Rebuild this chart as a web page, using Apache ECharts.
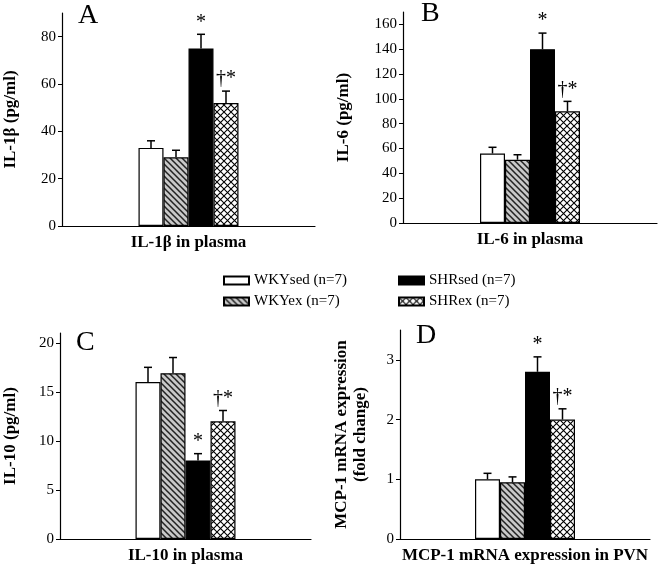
<!DOCTYPE html>
<html>
<head>
<meta charset="utf-8">
<script src="https://cdn.jsdelivr.net/npm/echarts@6/dist/echarts.min.js"></script>
<style>
  html, body { margin: 0; padding: 0; background: #fff; }
  #main { width: 664px; height: 572px; }
</style>
</head>
<body>
<div id="main"></div>
<script>
// groups (legend)
var groups = ['WKYsed (n=7)', 'WKYex (n=7)', 'SHRsed (n=7)', 'SHRex (n=7)'];

// panel A: IL-1β
var catA = ['IL-1β in plasma'];
var meanA = [33, 29, 75, 52];
var errA = [3, 3, 6, 5];
var marksA = ['', '', '*', '†*'];
var ticksA = [0, 20, 40, 60, 80];

// panel B: IL-6
var catB = ['IL-6 in plasma'];
var meanB = [56, 51, 140, 90];
var errB = [5, 4, 13, 8];
var marksB = ['', '', '*', '†*'];
var ticksB = [0, 20, 40, 60, 80, 100, 120, 140, 160];

// panel C: IL-10
var catC = ['IL-10 in plasma'];
var meanC = [16, 16.9, 8, 12];
var errC = [1.5, 1.6, 0.7, 1.1];
var marksC = ['', '', '*', '†*'];
var ticksC = [0, 5, 10, 15, 20];

// panel D: MCP-1
var catD = ['MCP-1 mRNA expression in PVN'];
var meanD = [1.0, 0.95, 2.8, 2.0];
var errD = [0.1, 0.09, 0.25, 0.18];
var marksD = ['', '', '*', '†*'];
var ticksD = [0, 1, 2, 3];

var FONT = '"Liberation Serif", "Times New Roman", serif';
var BAR_W = 25;

// fill patterns
function makeHatch() {
  var c = document.createElement('canvas');
  c.width = 6; c.height = 6;
  var g = c.getContext('2d');
  g.fillStyle = '#c8c8c8';
  g.fillRect(0, 0, 6, 6);
  g.strokeStyle = '#222';
  g.lineWidth = 1.5;
  g.beginPath();
  g.moveTo(-1, -1); g.lineTo(7, 7);
  g.moveTo(-4, 2); g.lineTo(4, 10);
  g.moveTo(2, -4); g.lineTo(10, 4);
  g.stroke();
  return c;
}
function makeCross() {
  var c = document.createElement('canvas');
  c.width = 7; c.height = 7;
  var g = c.getContext('2d');
  g.fillStyle = '#fff';
  g.fillRect(0, 0, 7, 7);
  g.strokeStyle = '#000';
  g.lineWidth = 1.1;
  g.beginPath();
  g.moveTo(-1, -1); g.lineTo(8, 8);
  g.moveTo(-1, 8); g.lineTo(8, -1);
  g.stroke();
  return c;
}
var fills = ['#ffffff', { image: makeHatch(), repeat: 'repeat' }, '#000000', { image: makeCross(), repeat: 'repeat' }];

var grids = [
  { left: 60, top: 13, width: 255, height: 213 },
  { left: 403, top: 12, width: 254, height: 211 },
  { left: 58, top: 333, width: 253, height: 206 },
  { left: 400, top: 330, width: 250, height: 209 }
];

var panels = [
  { cat: catA, mean: meanA, err: errA, marks: marksA, ticks: ticksA, max: 90, yName: 'IL-1β (pg/ml)', gap: 42 },
  { cat: catB, mean: meanB, err: errB, marks: marksB, ticks: ticksB, max: 170, yName: 'IL-6 (pg/ml)', gap: 50 },
  { cat: catC, mean: meanC, err: errC, marks: marksC, ticks: ticksC, max: 21, yName: 'IL-10 (pg/ml)', gap: 40 },
  { cat: catD, mean: meanD, err: errD, marks: marksD, ticks: ticksD, max: 3.5, yName: 'MCP-1 mRNA expression\n(fold change)', gap: 30 }
];

function errRender(params, api, marks) {
  var i = api.value(3);
  var base = api.coord([api.value(0), api.value(1)]);
  var top = api.coord([api.value(0), api.value(2)]);
  var x = base[0] + (i - 1.5) * BAR_W;
  return {
    type: 'group',
    children: [
      { type: 'line', shape: { x1: x, y1: base[1], x2: x, y2: top[1] }, style: { stroke: '#000', lineWidth: 1.5 } },
      { type: 'line', shape: { x1: x - 4, y1: top[1], x2: x + 4, y2: top[1] }, style: { stroke: '#000', lineWidth: 1.5 } },
      { type: 'text', x: x, y: top[1] - 2, style: { text: marks[params.dataIndex], align: 'center', verticalAlign: 'bottom', font: '20px ' + FONT, fill: '#000' } }
    ]
  };
}

var xAxes = [], yAxes = [], series = [];
panels.forEach(function (p, k) {
  xAxes.push({
    type: 'category', gridIndex: k, data: p.cat,
    axisLine: { lineStyle: { color: '#000', width: 1.2 } },
    axisTick: { show: false },
    axisLabel: { color: '#000', fontFamily: FONT, fontWeight: 'bold', fontSize: 17, margin: 8 }
  });
  yAxes.push({
    type: 'value', gridIndex: k, min: 0, max: p.max,
    name: p.yName, nameLocation: 'middle', nameRotate: 90, nameGap: p.gap,
    nameTextStyle: { color: '#000', fontFamily: FONT, fontWeight: 'bold', fontSize: 17, lineHeight: 19 },
    axisLine: { show: true, lineStyle: { color: '#000', width: 1.2 } },
    axisTick: { show: true, length: 4, lineStyle: { color: '#000' }, customValues: p.ticks },
    axisLabel: { color: '#000', fontFamily: FONT, fontSize: 15, margin: 6, customValues: p.ticks },
    splitLine: { show: false }
  });
  groups.forEach(function (g, i) {
    series.push({
      type: 'bar', name: g, xAxisIndex: k, yAxisIndex: k,
      data: [p.mean[i]], barWidth: BAR_W, barGap: '0%',
      itemStyle: { color: fills[i], borderColor: '#000', borderWidth: 1.2 },
      emphasis: { disabled: true }, animation: false
    });
  });
  var errData = groups.map(function (g, i) {
    return [0, p.mean[i], p.mean[i] + p.err[i], i];
  });
  series.push({
    type: 'custom', xAxisIndex: k, yAxisIndex: k, data: errData,
    renderItem: function (params, api) { return errRender(params, api, p.marks); },
    encode: { x: 0, y: 2 }, z: 5, animation: false, silent: true
  });
});

var letters = [['A', 78, 2], ['B', 421, 0], ['C', 76, 329], ['D', 416, 322]];

var legendBase = {
  orient: 'vertical', top: 268, icon: 'rect',
  itemWidth: 25, itemHeight: 8, itemGap: 6, selectedMode: false,
  textStyle: { color: '#000', fontFamily: FONT, fontSize: 15 }
};

var chart = echarts.init(document.getElementById('main'));
chart.setOption({
  backgroundColor: '#fff',
  animation: false,
  grid: grids,
  xAxis: xAxes,
  yAxis: yAxes,
  legend: [
    Object.assign({}, legendBase, { data: [groups[0], groups[1]], left: 218 }),
    Object.assign({}, legendBase, { data: [groups[2], groups[3]], left: 393 })
  ],
  graphic: letters.map(function (l) {
    return { type: 'text', left: l[1], top: l[2], style: { text: l[0], font: '28px ' + FONT, fill: '#000' } };
  }),
  series: series
});
</script>
</body>
</html>
